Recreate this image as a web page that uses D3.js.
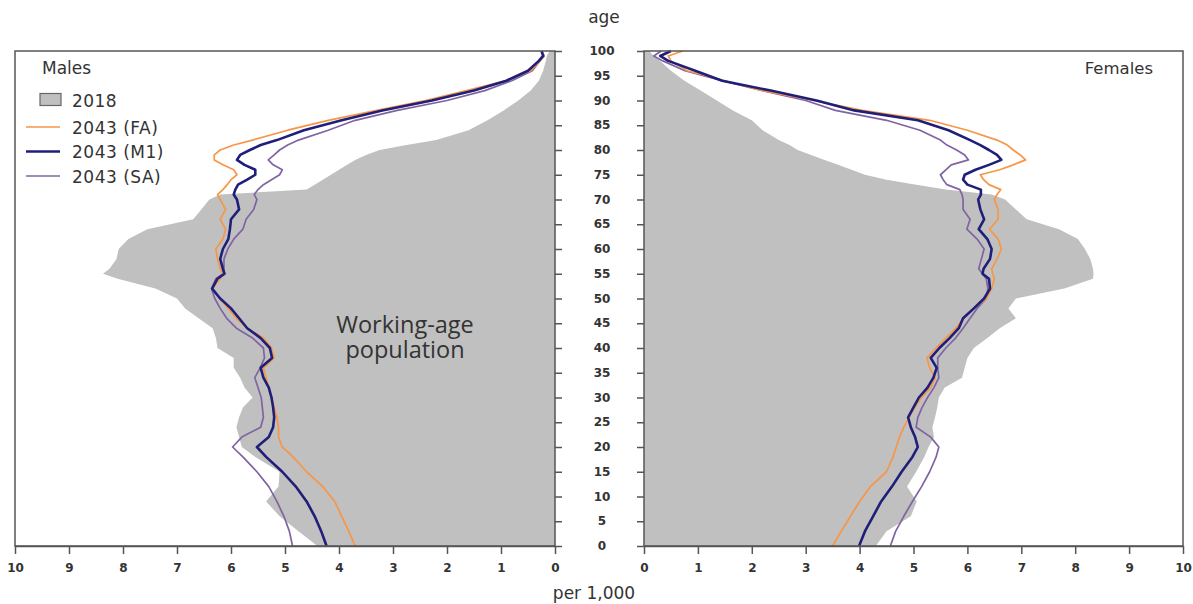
<!DOCTYPE html>
<html>
<head>
<meta charset="utf-8">
<script src="https://cdn.jsdelivr.net/npm/d3@7"></script>
<style>
  body { margin: 0; background: #fff; }
  text { font-family: "DejaVu Sans", Verdana, sans-serif; fill: #333; }
</style>
</head>
<body>
<svg id="canvas" width="1193" height="604"></svg>
<script>
const ages = [0, 3, 6, 9, 12, 15, 18, 20, 22, 24, 26, 28, 30, 32, 34, 36, 38, 40, 42, 44,
    46, 48, 50, 52, 54, 55, 56, 58, 60, 62, 64, 66, 68, 70, 71, 72, 73, 74, 75, 76,
    77, 78, 79, 80, 81, 82, 84, 86, 88, 90, 92, 94, 96, 98, 99, 100];

// per 1,000, one value for each age above
const males_2018 = [4.4, 4.75, 5.1, 5.35, 5.12, 5.1, 5.55, 5.8, 5.85, 5.9, 5.85, 5.78, 5.6, 5.75, 5.83, 5.95, 5.95, 6.25, 6.28, 6.34,
    6.6, 6.85, 7.0, 7.4, 8.1, 8.37, 8.25, 8.12, 8.08, 7.9, 7.55, 6.7, 6.55, 6.4, 6.2, 4.6, 4.45, 4.3, 4.15, 4.0,
    3.85, 3.7, 3.5, 3.25, 2.75, 2.2, 1.6, 1.25, 0.95, 0.68, 0.45, 0.3, 0.22, 0.17, 0.15, 0.1];
const males_fa = [3.7, 3.82, 3.95, 4.08, 4.3, 4.6, 4.85, 5.05, 5.12, 5.12, 5.15, 5.2, 5.25, 5.3, 5.35, 5.4, 5.2, 5.25, 5.4, 5.7,
    5.9, 6.05, 6.2, 6.35, 6.2, 6.15, 6.2, 6.25, 6.28, 6.15, 6.1, 6.2, 6.1, 6.2, 6.25, 6.15, 6.07, 6.0, 5.89, 5.95,
    6.15, 6.31, 6.31, 6.2, 5.95, 5.6, 4.95, 4.2, 3.3, 2.4, 1.64, 0.92, 0.45, 0.28, 0.2, 0.25];
const males_m1 = [4.23, 4.33, 4.45, 4.6, 4.8, 5.05, 5.35, 5.52, 5.3, 5.22, 5.2, 5.22, 5.25, 5.3, 5.4, 5.45, 5.24, 5.28, 5.45, 5.7,
    5.85, 6.0, 6.2, 6.35, 6.25, 6.12, 6.15, 6.2, 6.15, 6.05, 6.02, 6.0, 5.85, 5.89, 5.95, 5.92, 5.87, 5.7, 5.55, 5.55,
    5.75, 5.89, 5.83, 5.65, 5.45, 5.15, 4.65, 3.95, 3.2, 2.28, 1.5, 0.9, 0.5, 0.3, 0.22, 0.25];
const males_sa = [4.86, 4.92, 5.02, 5.15, 5.3, 5.52, 5.78, 5.97, 5.8, 5.45, 5.4, 5.42, 5.44, 5.5, 5.56, 5.46, 5.38, 5.4, 5.6, 5.9,
    6.08, 6.2, 6.3, 6.36, 6.28, 6.15, 6.13, 6.13, 6.06, 5.95, 5.78, 5.72, 5.58, 5.52, 5.57, 5.5, 5.4, 5.25, 5.1, 5.05,
    5.22, 5.31, 5.2, 5.1, 4.95, 4.75, 4.2, 3.7, 2.92, 2.0, 1.3, 0.8, 0.42, 0.28, 0.2, 0.25];

const females_2018 = [4.3, 4.5, 4.95, 5.06, 4.88, 5.05, 5.2, 5.28, 5.38, 5.35, 5.4, 5.44, 5.47, 5.58, 5.9, 5.95, 6.0, 6.12, 6.37, 6.6,
    6.9, 6.76, 6.9, 7.8, 8.33, 8.34, 8.33, 8.28, 8.18, 8.05, 7.7, 7.1, 6.9, 6.7, 6.45, 5.6, 5.05, 4.5, 4.1, 3.85,
    3.6, 3.35, 3.1, 2.85, 2.7, 2.5, 2.2, 2.0, 1.65, 1.35, 1.05, 0.75, 0.5, 0.3, 0.18, 0.1];
const females_fa = [3.5, 3.66, 3.83, 4.0, 4.2, 4.5, 4.62, 4.68, 4.74, 4.82, 4.92, 5.02, 5.15, 5.32, 5.4, 5.3, 5.25, 5.42, 5.6, 5.79,
    5.92, 6.12, 6.35, 6.45, 6.5, 6.47, 6.45, 6.55, 6.63, 6.57, 6.41, 6.57, 6.57, 6.5, 6.55, 6.62, 6.4, 6.3, 6.24, 6.6,
    6.85, 7.08, 6.98, 6.85, 6.74, 6.55, 6.0, 5.3, 4.05, 3.15, 2.2, 1.5, 0.8, 0.5, 0.45, 0.72];
const females_m1 = [3.99, 4.1, 4.25, 4.4, 4.6, 4.78, 4.98, 5.08, 5.03, 4.95, 4.9, 5.0, 5.1, 5.26, 5.37, 5.43, 5.32, 5.48, 5.67, 5.84,
    5.92, 6.12, 6.31, 6.42, 6.4, 6.28, 6.3, 6.42, 6.45, 6.37, 6.21, 6.31, 6.24, 6.2, 6.25, 6.25, 6.0, 5.92, 5.95, 6.15,
    6.4, 6.63, 6.55, 6.4, 6.24, 6.05, 5.65, 5.08, 3.9, 3.2, 2.35, 1.45, 0.95, 0.45, 0.3, 0.5];
const females_sa = [4.57, 4.67, 4.82, 4.98, 5.15, 5.3, 5.42, 5.47, 5.32, 5.05, 5.08, 5.16, 5.26, 5.38, 5.47, 5.45, 5.45, 5.6, 5.78, 5.92,
    6.05, 6.18, 6.35, 6.38, 6.35, 6.28, 6.21, 6.26, 6.31, 6.18, 5.99, 6.05, 5.92, 5.92, 5.9, 5.86, 5.62, 5.55, 5.5, 5.6,
    5.7, 6.02, 5.95, 5.8, 5.62, 5.5, 5.12, 4.5, 3.55, 3.0, 2.2, 1.45, 0.76, 0.35, 0.18, 0.32];

const series_names = ["2043 (FA)", "2043 (M1)", "2043 (SA)"];
const series_colors = ["#f79646", "#1f1f7a", "#8064a2"];
const series_widths = [1.7, 2.6, 1.7];
const x_ticks = [0, 1, 2, 3, 4, 5, 6, 7, 8, 9, 10];
const age_ticks = d3.range(0, 101, 5);
const callout = ["Working-age", "population"];

const svg = d3.select("svg#canvas");

const y = d3.scaleLinear().domain([0, 100]).range([546, 51]);
const x_left = d3.scaleLinear().domain([0, 10]).range([555, 15]);
const x_right = d3.scaleLinear().domain([0, 10]).range([644, 1183]);

const draw_panel = (x, base, lines, label, label_x, anchor) => {
    const g = svg.append("g");

    g.append("path")
        .datum(ages)
        .attr("fill", "#c0c0c0")
        .attr("d", d3.area()
            .y((a) => y(a))
            .x0(x(0))
            .x1((_, i) => x(base[i])));

    // draw SA first so the medium line sits on top
    [2, 0, 1].forEach((k) => {
        g.append("path")
            .datum(ages)
            .attr("fill", "none")
            .attr("stroke", series_colors[k])
            .attr("stroke-width", series_widths[k])
            .attr("stroke-linejoin", "round")
            .attr("d", d3.line()
                .y((a) => y(a))
                .x((_, i) => x(lines[k][i])));
    });

    g.append("rect")
        .attr("x", Math.min(x(0), x(10)))
        .attr("y", y(100))
        .attr("width", Math.abs(x(10) - x(0)))
        .attr("height", y(0) - y(100))
        .attr("fill", "none")
        .attr("stroke", "#555")
        .attr("stroke-width", 1.5);

    const xa = g.append("g")
        .attr("transform", `translate(0,${y(0)})`)
        .call(d3.axisBottom(x).tickValues(x_ticks).tickSize(8).tickSizeOuter(0).tickFormat(d3.format("d")));
    xa.select(".domain").attr("stroke", "#555").attr("stroke-width", 1.5);
    xa.selectAll(".tick line").attr("stroke", "#555").attr("stroke-width", 1.5);
    xa.selectAll(".tick text")
        .attr("y", 19)
        .attr("dy", "0.55em")
        .style("font-family", "'DejaVu Sans', Verdana, sans-serif")
        .style("font-size", "12px")
        .style("font-weight", "bold")
        .attr("fill", "#3a3a3a");

    const age_axis = x === x_left ? d3.axisRight(y) : d3.axisLeft(y);
    const ya = g.append("g")
        .attr("transform", `translate(${x(0)},0)`)
        .call(age_axis.tickValues(age_ticks).tickSize(7).tickSizeOuter(0).tickFormat(""));
    ya.select(".domain").remove();
    ya.selectAll(".tick line").attr("stroke", "#555").attr("stroke-width", 1.5);

    g.append("text")
        .attr("x", label_x)
        .attr("y", 74)
        .attr("text-anchor", anchor)
        .style("font-size", anchor === "start" ? "17px" : "16.5px")
        .text(label);
};

draw_panel(x_left, males_2018, [males_fa, males_m1, males_sa], "Males", 42, "start");
draw_panel(x_right, females_2018, [females_fa, females_m1, females_sa], "Females", 1153, "end");

// age labels between the two panels
svg.append("g")
    .selectAll("text")
    .data(age_ticks)
    .join("text")
    .attr("x", 602)
    .attr("y", (d) => y(d))
    .attr("dy", "0.35em")
    .attr("text-anchor", "middle")
    .style("font-size", "12px")
    .style("font-weight", "bold")
    .attr("fill", "#3a3a3a")
    .text((d) => d);

svg.append("text")
    .attr("x", 604)
    .attr("y", 23)
    .attr("text-anchor", "middle")
    .style("font-size", "17px")
    .text("age");

svg.append("text")
    .attr("x", 594)
    .attr("y", 599)
    .attr("text-anchor", "middle")
    .style("font-size", "17px")
    .text("per 1,000");

// legend
const legend = svg.append("g");
legend.append("rect")
    .attr("x", 40)
    .attr("y", 93.5)
    .attr("width", 21)
    .attr("height", 12)
    .attr("fill", "#c0c0c0")
    .attr("stroke", "#666")
    .attr("stroke-width", 1.2);
legend.append("text")
    .attr("x", 72)
    .attr("y", 107)
    .style("font-size", "17px")
    .style("letter-spacing", "0.4px")
    .text("2018");

legend.selectAll("line")
    .data(series_names)
    .join("line")
    .attr("x1", 26)
    .attr("x2", 60)
    .attr("y1", (_, i) => 127 + i * 24.5)
    .attr("y2", (_, i) => 127 + i * 24.5)
    .attr("stroke", (_, i) => series_colors[i])
    .attr("stroke-width", (_, i) => series_widths[i] - 0.2);

legend.selectAll("text.item")
    .data(series_names)
    .join("text")
    .attr("class", "item")
    .attr("x", 72)
    .attr("y", (_, i) => 133.5 + i * 24.5)
    .style("font-size", "17px")
    .style("letter-spacing", "0.5px")
    .text((d) => d);

// callout in the middle of the male pyramid
svg.append("g")
    .selectAll("text")
    .data(callout)
    .join("text")
    .attr("x", 405)
    .attr("y", (_, i) => 333 + i * 25)
    .attr("text-anchor", "middle")
    .style("font-family", "'Open Sans', sans-serif")
    .style("font-size", "23.5px")
    .attr("fill", "#141414")
    .text((d) => d);
</script>
</body>
</html>
